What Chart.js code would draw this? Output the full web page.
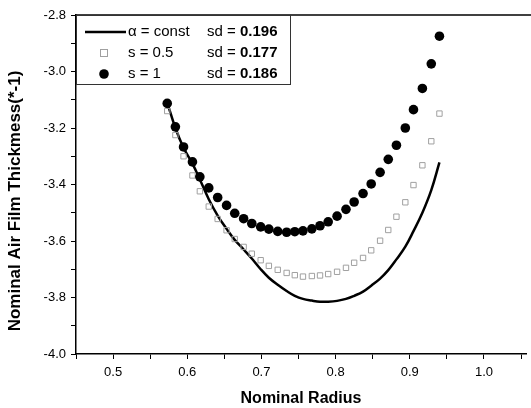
<!DOCTYPE html>
<html>
<head>
<meta charset="utf-8">
<script src="https://cdn.jsdelivr.net/npm/chart.js@4.4.1/dist/chart.umd.min.js"></script>
<style>
  html, body { margin: 0; padding: 0; background: #fff; }
  #wrap { width: 531px; height: 408px; }
</style>
</head>
<body>
<div id="wrap"><canvas id="chart"></canvas></div>
<script>
// nominal radius grid shared by all three series
const radius = [
  0.573, 0.584, 0.595, 0.607, 0.617, 0.629, 0.641, 0.653, 0.664, 0.676, 0.687,
  0.699, 0.710, 0.722, 0.734, 0.745, 0.756, 0.768, 0.779, 0.790, 0.802, 0.814,
  0.825, 0.837, 0.848, 0.860, 0.871, 0.882, 0.894, 0.905, 0.917, 0.929, 0.940,
];

// alpha = const (solid line)
const alphaConst = [
  -3.11, -3.2, -3.27, -3.326, -3.382, -3.452, -3.51, -3.557, -3.596, -3.63, -3.662,
  -3.7, -3.73, -3.755, -3.777, -3.794, -3.805, -3.811, -3.815, -3.815, -3.812, -3.805,
  -3.794, -3.779, -3.758, -3.733, -3.703, -3.665, -3.62, -3.565, -3.5, -3.42, -3.322,
];

// s = 0.5 (open squares)
const sHalf = [
  -3.14, -3.225, -3.3, -3.368, -3.424, -3.478, -3.522, -3.562, -3.593, -3.621, -3.645,
  -3.668, -3.688, -3.702, -3.713, -3.721, -3.726, -3.724, -3.722, -3.717, -3.709, -3.695,
  -3.677, -3.66, -3.633, -3.599, -3.561, -3.514, -3.463, -3.402, -3.332, -3.247, -3.149,
];

// s = 1 (filled circles)
const sOne = [
  -3.113, -3.196, -3.267, -3.32, -3.373, -3.412, -3.446, -3.474, -3.502, -3.521, -3.538,
  -3.55, -3.558, -3.566, -3.569, -3.567, -3.564, -3.557, -3.546, -3.532, -3.512, -3.488,
  -3.462, -3.432, -3.398, -3.357, -3.311, -3.261, -3.2, -3.135, -3.06, -2.973, -2.875,
];

const seriesNames = ["\u03b1 = const", "s = 0.5", "s = 1"];
const sdValues = ["0.196", "0.177", "0.186"];
const yTitle = "Nominal Air Film Thickmess(*-1)";

const xTicks = [0.45, 0.5, 0.55, 0.6, 0.65, 0.7, 0.75, 0.8, 0.85, 0.9, 0.95, 1.0, 1.05];
const yTicks = [-4.0, -3.9, -3.8, -3.7, -3.6, -3.5, -3.4, -3.3, -3.2, -3.1, -3.0, -2.9, -2.8];

const toPoints = (ys) => radius.map((x, i) => ({ x, y: ys[i] }));

const FONT = '"Liberation Sans", Arial, sans-serif';

// legend drawn by hand: Origin-style box with an extra sd column
const legendBox = {
  id: "legendBox",
  afterDatasetsDraw(chart) {
    const c = chart.ctx;
    const area = chart.chartArea;
    c.save();
    // top frame line
    c.strokeStyle = "#000";
    c.lineWidth = 1.5;
    c.beginPath();
    c.moveTo(area.left, area.top);
    c.lineTo(531, area.top);
    c.stroke();

    // y title, sits a bit below the plot centre like the original
    c.font = "bold 17px " + FONT;
    c.fillStyle = "#000";
    c.textAlign = "center";
    c.textBaseline = "middle";
    c.translate(15, 201);
    c.rotate(-Math.PI / 2);
    c.fillText(yTitle, 0, 0);
    c.setTransform(1, 0, 0, 1, 0, 0);

    const bx = area.left, by = area.top, bw = 214, bh = 69;
    c.fillStyle = "#fff";
    c.fillRect(bx, by, bw, bh);
    c.lineWidth = 1;
    c.strokeStyle = "#333";
    c.strokeRect(bx + 0.5, by + 0.5, bw, bh);

    const rows = [by + 17, by + 38, by + 59];
    c.textBaseline = "middle";
    c.textAlign = "left";
    rows.forEach((ry, i) => {
      const ds = chart.data.datasets[i];
      if (i === 0) {
        c.strokeStyle = "#000";
        c.lineWidth = 2.5;
        c.beginPath();
        c.moveTo(bx + 9, ry);
        c.lineTo(bx + 50, ry);
        c.stroke();
      } else if (ds.pointStyle === "rect") {
        c.strokeStyle = ds.pointBorderColor;
        c.lineWidth = 1;
        c.strokeRect(bx + 24.5, ry - 3.5, 7, 7);
      } else {
        c.fillStyle = "#000";
        c.beginPath();
        c.arc(bx + 28, ry, 4.8, 0, Math.PI * 2);
        c.fill();
      }
      c.fillStyle = "#000";
      c.font = "15px " + FONT;
      c.fillText(seriesNames[i], bx + 52, ry);
      const sdx = bx + 131;
      c.fillText("sd = ", sdx, ry);
      const w = c.measureText("sd = ").width;
      c.font = "bold 15px " + FONT;
      c.fillText(sdValues[i], sdx + w, ry);
    });
    c.restore();
  },
};

new Chart(document.getElementById("chart"), {
  type: "scatter",
  data: {
    datasets: [
      {
        label: seriesNames[0],
        data: toPoints(alphaConst),
        showLine: true,
        borderColor: "#000",
        borderWidth: 2.5,
        pointRadius: 0,
        tension: 0.4,
        order: 3,
      },
      {
        label: seriesNames[1],
        data: toPoints(sHalf),
        pointStyle: "rect",
        pointRadius: 3.8,
        backgroundColor: "rgba(255,255,255,0)",
        pointBorderColor: "#a0a0a0",
        pointBorderWidth: 1,
        order: 2,
      },
      {
        label: seriesNames[2],
        data: toPoints(sOne),
        pointStyle: "circle",
        pointRadius: 4.8,
        backgroundColor: "#000",
        pointBackgroundColor: "#000",
        pointBorderColor: "#000",
        pointBorderWidth: 0,
        order: 1,
      },
    ],
  },
  options: {
    responsive: true,
    maintainAspectRatio: false,
    animation: false,
    events: [],
    layout: { padding: { top: 15, right: 0, left: 0, bottom: 0 } },
    plugins: {
      legend: { display: false },
      tooltip: { enabled: false },
    },
    scales: {
      x: {
        type: "linear",
        min: 0.45,
        max: 1.0567,
        afterBuildTicks: (s) => { s.ticks = xTicks.map((v) => ({ value: v })); },
        afterFit: (s) => { s.height = 54; },
        border: { display: true, color: "#000", width: 1.5 },
        grid: { drawOnChartArea: false, tickLength: 5, color: "#000", tickColor: "#000" },
        ticks: {
          color: "#000",
          padding: 6,
          maxRotation: 0,
          autoSkip: false,
          font: { family: FONT, size: 13 },
          callback: (v) => (Math.round(v * 100) % 10 === 0 ? v.toFixed(1) : ""),
        },
        title: {
          display: true,
          text: "Nominal Radius",
          color: "#000",
          padding: { top: 4, bottom: 0 },
          font: { family: FONT, size: 16, weight: "bold" },
        },
      },
      y: {
        type: "linear",
        min: -4.0,
        max: -2.8,
        afterBuildTicks: (s) => { s.ticks = yTicks.map((v) => ({ value: v })); },
        afterFit: (s) => { s.width = 76; },
        border: { display: true, color: "#000", width: 1.5 },
        grid: { drawOnChartArea: false, tickLength: 5, color: "#000", tickColor: "#000" },
        ticks: {
          color: "#000",
          padding: 5,
          autoSkip: false,
          font: { family: FONT, size: 13 },
          callback: (v) => (Math.round(v * 10) % 2 === 0 ? v.toFixed(1) : ""),
        },
      },
    },
  },
  plugins: [legendBox],
});
</script>
</body>
</html>
